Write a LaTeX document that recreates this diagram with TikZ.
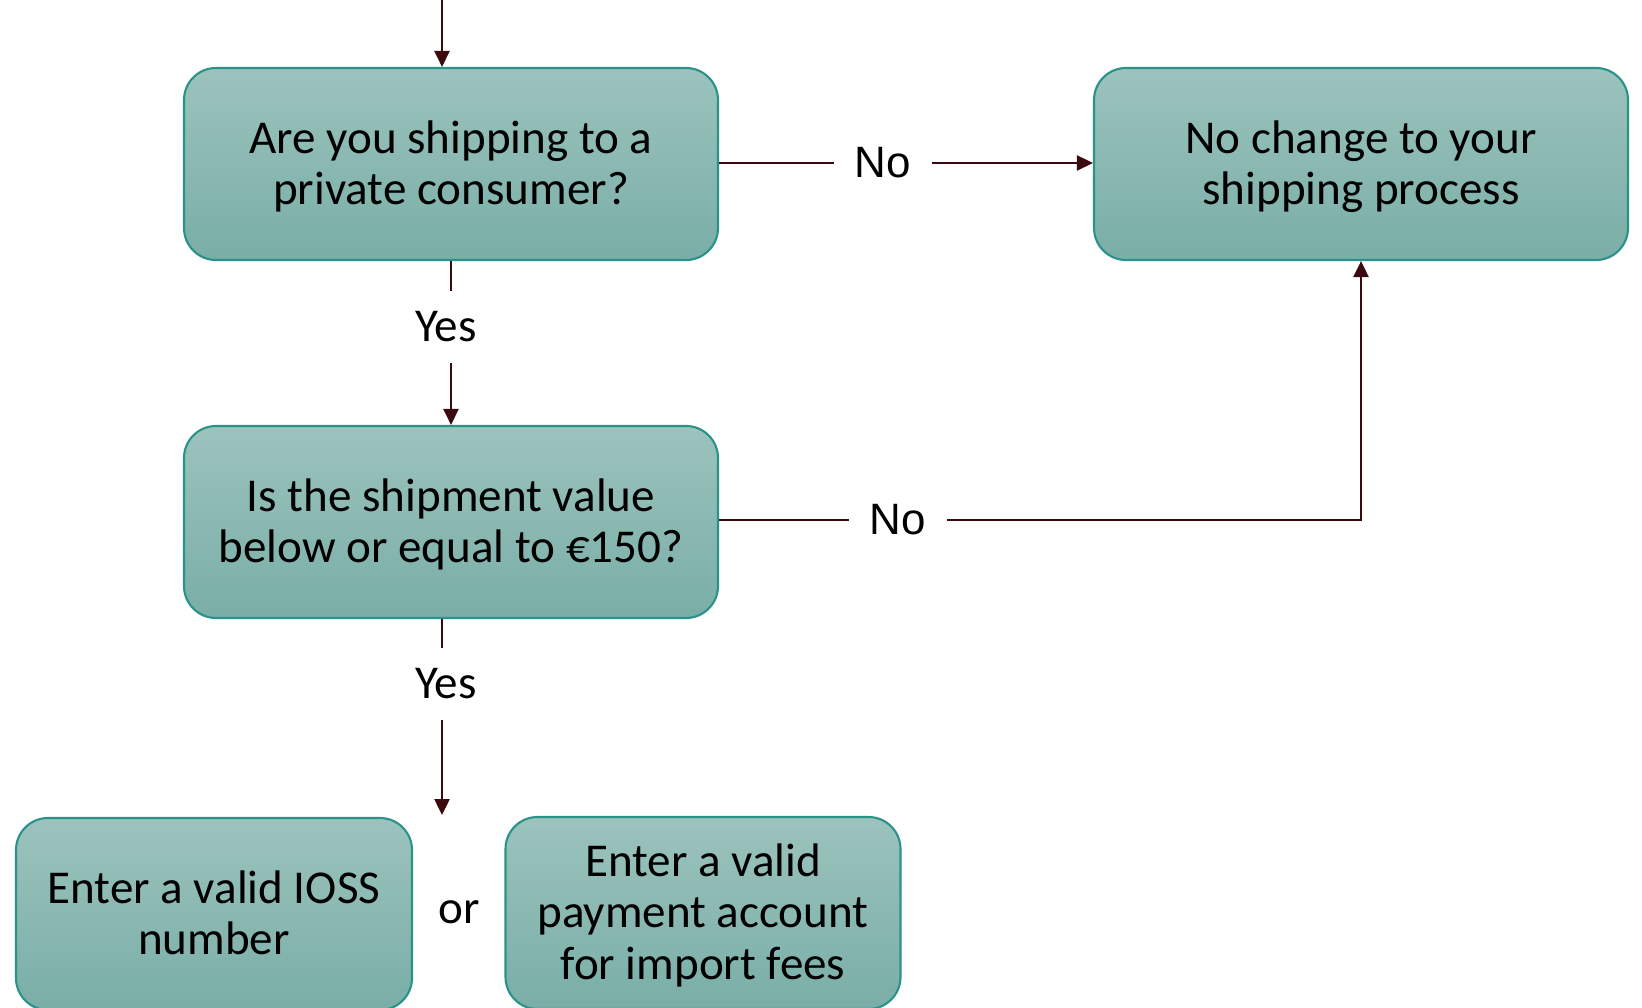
\documentclass[tikz,border=0pt]{standalone}
\usepackage{fontspec}
\setmainfont{Carlito}
\newfontfamily\labelfont{Liberation Sans}
\usetikzlibrary{calc,arrows.meta}
\definecolor{boxtop}{HTML}{9CC3BD}
\definecolor{boxbot}{HTML}{79AEA7}
\definecolor{boxedge}{HTML}{2A9389}
\definecolor{flow}{HTML}{3B0A0E}

\begin{document}
\begin{tikzpicture}[x=0.1mm, y=-0.1mm,
  stepbox/.style={draw=boxedge, line width=0.6pt, rounded corners=3.2mm,
    top color=boxtop, bottom color=boxbot, minimum width=53.4mm,
    minimum height=19.2mm, align=center, inner sep=0pt, text depth=0.8pt,
    font=\fontsize{13.4}{14.6}\selectfont},
  answer/.style={inner xsep=2mm, inner ysep=2mm,
    font=\fontsize{13.4}{14.6}\selectfont},
  flowline/.style={draw=flow, line width=0.7pt},
  flowarrow/.style={flowline, -{Triangle[length=1.6mm, width=1.5mm]}}]

% ------------------------
% PAGE
% ------------------------
\useasboundingbox (0,0) rectangle (1642,1007);

% ------------------------
% Boxes
% ------------------------
\node[stepbox] (private) at (451,164) {Are you shipping to a\\private consumer?};
\node[stepbox] (nochange) at (1361,164) {No change to your\\shipping process};
\node[stepbox] (value) at (451,522) {Is the shipment value\\below or equal to €150?};
\node[stepbox, minimum width=39.6mm] (ioss) at (214,914) {Enter a valid IOSS\\number};
\node[stepbox, minimum width=39.5mm] (payment) at (703,913) {Enter a valid\\payment account\\for import fees};
\node[answer] (or) at (459,912) {or};

% ------------------------
% Answers
% ------------------------
\node[answer] (yesA) at (446,327) {Yes};
\node[answer] (yesB) at (446,684) {Yes};
\node[answer, font=\labelfont\fontsize{12.5}{14}\selectfont] (noA) at (883,163) {No};
\node[answer, font=\labelfont\fontsize{12.5}{14}\selectfont] (noB) at (898,520) {No};

% Free ends
\coordinate (entry) at (442,0);
\coordinate (drop) at (442,815);

% ------------------------
% Connectors
% ------------------------
\draw[flowarrow] (entry) -- (entry |- private.north);

\draw[flowline] (private.south) -- (private.south |- yesA.north);
\draw[flowarrow] (private.south |- yesA.south) -- (value.north);

\draw[flowline] (private.east |- noA) -- (noA.west);
\draw[flowarrow] (noA.east) -- (nochange.west |- noA);

\draw[flowline] (value.east |- noB) -- (noB.west);
\draw[flowarrow] (noB.east) -| (nochange.south);

\draw[flowline] (drop |- value.south) -- (drop |- yesB.north);
\draw[flowarrow] (drop |- yesB.south) -- (drop);

\end{tikzpicture}
\end{document}
